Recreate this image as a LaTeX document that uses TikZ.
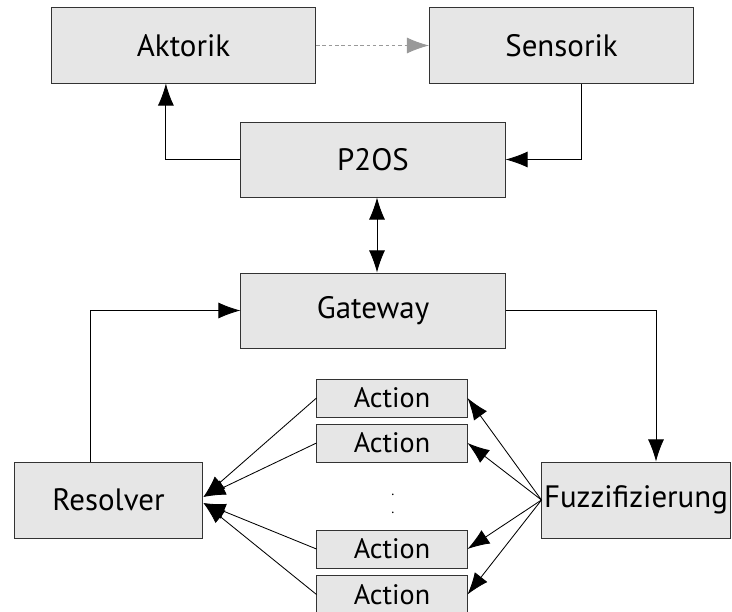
\documentclass[tikz,border=0pt]{standalone}
\definecolor{BoxFill}{HTML}{E6E6E6}
\definecolor{BoxLine}{HTML}{333333}
\definecolor{LinkGray}{HTML}{999999}
\usepackage{fontspec}
\setmainfont{PT Sans}
\usepackage{tikz}
\usetikzlibrary{arrows.meta,positioning}
\tikzset{
    % Grey blocks with thin dark border
    blockbox/.style={
        rectangle,
        draw=BoxLine,
        fill=BoxFill,
        line width=0.7pt,
        minimum width=6.6cm,
        minimum height=1.875cm,
        inner sep=0pt,
        align=center,
        font=\fontsize{22}{26}\selectfont
    },
    actionbox/.style={
        rectangle,
        draw=BoxLine,
        fill=BoxFill,
        line width=0.7pt,
        minimum width=3.75cm,
        minimum height=0.95cm,
        inner sep=0pt,
        align=center,
        font=\fontsize{20}{24}\selectfont
    },
    arrow/.style={
        -{Latex[length=0.55cm,width=0.4cm]},
        line width=0.6pt,
        color=black
    },
    dashedarrow/.style={
        -{Latex[length=0.55cm,width=0.4cm]},
        dash pattern=on 2.5pt off 2pt,
        line width=0.6pt,
        color=LinkGray
    }
}

\begin{document}
\begin{tikzpicture}[x=0.025cm, y=-0.025cm]
    \useasboundingbox (0,0) rectangle (732,612);

    % Top row
    \node[blockbox] (aktorik) at (183.5,45.5) {Aktorik};
    \node[blockbox] (sensorik) at (561.5,45.5) {Sensorik};

    % Middle
    \node[blockbox] (p2os) at (373,159.5) {P2OS};
    \node[blockbox] (gateway) at (373,310.5) {Gateway};

    % Bottom row
    \node[blockbox, minimum width=4.72cm, minimum height=1.9cm] (resolver) at (108.5,500) {Resolver};
    \node[blockbox, minimum width=4.7cm, minimum height=1.9cm] (fuzzy) at (636,500) {Fuzzifizierung};

    % Actions
    \node[actionbox] (act1) at (392,398) {Action};
    \node[actionbox] (act2) at (392,443) {Action};
    \node[font=\fontsize{10}{12.8}\selectfont, align=center, inner sep=0pt] (dots) at (393,504) {.\\.};
    \node[actionbox] (act3) at (392,549) {Action};
    \node[actionbox] (act4) at (392,594.5) {Action};

    % Arrows
    \draw[dashedarrow] (aktorik) -- (sensorik);
    \draw[arrow] (p2os.west) -| ([xshift=-0.44cm]aktorik.south);
    \draw[arrow] ([xshift=0.49cm]sensorik.south) |- (p2os.east);
    \draw[arrow, {Latex[length=0.55cm,width=0.4cm]}-{Latex[length=0.55cm,width=0.4cm]}] ([xshift=0.1cm]p2os.south) -- ([xshift=0.1cm]gateway.north);
    \draw[arrow] ([xshift=-0.46cm]resolver.north) |- (gateway.west);
    \draw[arrow] (gateway.east) -| ([xshift=0.5cm]fuzzy.north);

    % Actions to resolver, fuzzifier to actions
    \foreach \i in {1,2} {
        \draw[arrow] (act\i.west) -- ([yshift=0.075cm]resolver.east);
    }
    \foreach \i in {3,4} {
        \draw[arrow] (act\i.west) -- ([yshift=-0.075cm]resolver.east);
    }
    \foreach \i in {1,2,3,4} {
        \draw[arrow] (fuzzy.west) -- (act\i.east);
    }
\end{tikzpicture}
\end{document}
